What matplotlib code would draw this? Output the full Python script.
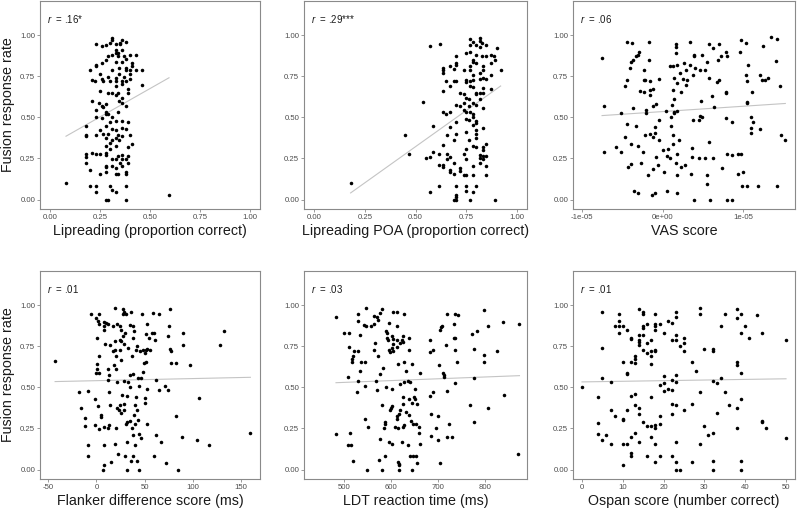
import matplotlib
matplotlib.use("Agg")
import matplotlib.pyplot as plt
import numpy as np

plt.rcParams['font.family'] = ['Liberation Sans', 'DejaVu Sans']
plt.rcParams['mathtext.fontset'] = 'custom'
plt.rcParams['mathtext.it'] = 'Liberation Sans:italic'
plt.rcParams['mathtext.rm'] = 'Liberation Sans'

# ---- data ----
# panel 1: lipreading (proportion correct) vs fusion rate
lip_x = [0.31, 0.31, 0.36, 0.38, 0.35, 0.33, 0.35, 0.23, 0.28, 0.30, 0.26,
         0.33, 0.36, 0.33, 0.34, 0.31, 0.29, 0.37, 0.40, 0.43, 0.38, 0.34, 0.28,
         0.33, 0.36, 0.41, 0.26, 0.23, 0.23,
         0.41, 0.38, 0.345, 0.31, 0.38, 0.40, 0.43, 0.46, 0.20, 0.345, 0.25, 0.40,
         0.37, 0.29, 0.33, 0.40, 0.26, 0.21, 0.225, 0.265, 0.30, 0.33, 0.36, 0.38,
         0.36, 0.33, 0.46, 0.39, 0.39, 0.25, 0.29, 0.31, 0.34, 0.33, 0.36, 0.345,
         0.21, 0.36, 0.245, 0.28, 0.26, 0.38, 0.265, 0.23, 0.28, 0.34, 0.28, 0.29,
         0.23, 0.31, 0.26,
         0.33, 0.36, 0.39, 0.30, 0.28, 0.18, 0.36, 0.38, 0.31, 0.33, 0.25, 0.265,
         0.29, 0.23, 0.18, 0.18, 0.40, 0.34, 0.36, 0.28, 0.33, 0.31, 0.345, 0.30,
         0.41, 0.39, 0.33, 0.28, 0.30,
         0.18, 0.21, 0.23, 0.25, 0.28, 0.28, 0.36, 0.34, 0.39, 0.18, 0.31, 0.33,
         0.36, 0.38, 0.39, 0.18, 0.35, 0.28, 0.31, 0.36, 0.28, 0.33, 0.20, 0.28,
         0.38, 0.25, 0.33, 0.34, 0.38,
         0.08, 0.20, 0.23, 0.30, 0.38, 0.31, 0.33, 0.23, 0.595, 0.28, 0.29, 0.38]
lip_y = [0.985, 0.97, 0.97, 0.96, 0.955, 0.945, 0.945, 0.945, 0.94, 0.955, 0.935,
         0.91, 0.91, 0.89, 0.89, 0.88, 0.87, 0.87, 0.88, 0.88, 0.855, 0.87, 0.85,
         0.835, 0.835, 0.83, 0.83, 0.82, 0.815,
         0.81, 0.80, 0.80, 0.79, 0.785, 0.785, 0.785, 0.79, 0.79, 0.765, 0.765, 0.765,
         0.745, 0.745, 0.74, 0.735, 0.735, 0.725, 0.72, 0.72, 0.72, 0.72, 0.72, 0.72,
         0.70, 0.69, 0.695, 0.67, 0.65, 0.66, 0.65, 0.65, 0.65, 0.635, 0.62, 0.60,
         0.60, 0.59, 0.585, 0.58, 0.57, 0.57, 0.565, 0.545, 0.535, 0.53, 0.52, 0.52,
         0.50, 0.50, 0.495,
         0.48, 0.48, 0.47, 0.47, 0.445, 0.445, 0.435, 0.43, 0.43, 0.42, 0.42, 0.40,
         0.40, 0.395, 0.39, 0.385, 0.395, 0.395, 0.385, 0.375, 0.375, 0.36, 0.36, 0.345,
         0.335, 0.32, 0.325, 0.325, 0.31,
         0.28, 0.285, 0.28, 0.28, 0.285, 0.27, 0.27, 0.265, 0.265, 0.26, 0.245, 0.245,
         0.245, 0.245, 0.22, 0.22, 0.22, 0.205, 0.205, 0.205, 0.195, 0.19, 0.18, 0.165,
         0.165, 0.155, 0.155, 0.155, 0.155,
         0.10, 0.085, 0.085, 0.085, 0.085, 0.06, 0.045, 0.045, 0.03, 0.0, 0.0, 0.0]

# panel 2: lipreading place of articulation
poa_x = [0.18, 0.45, 0.47, 0.535, 0.57, 0.62, 0.77, 0.82, 0.82, 0.785, 0.83,
         0.80, 0.85, 0.77, 0.82, 0.90, 0.77, 0.75, 0.80, 0.83, 0.85, 0.87, 0.885,
         0.70, 0.89, 0.785, 0.785, 0.80, 0.87, 0.70, 0.70, 0.67, 0.835, 0.77, 0.92,
         0.74, 0.69, 0.77, 0.635, 0.635, 0.635, 0.82, 0.835, 0.785, 0.835, 0.87,
         0.85, 0.82, 0.785, 0.75, 0.77, 0.65, 0.69, 0.70, 0.75, 0.67, 0.77, 0.785,
         0.835, 0.87, 0.635, 0.72, 0.80, 0.82, 0.835, 0.80, 0.74, 0.75, 0.765, 0.82,
         0.785, 0.74, 0.70, 0.72, 0.765, 0.80, 0.835, 0.74, 0.75, 0.635, 0.65, 0.67,
         0.77, 0.785, 0.785, 0.75, 0.765, 0.80, 0.70, 0.80, 0.785, 0.585, 0.67, 0.835,
         0.80, 0.75, 0.70, 0.80, 0.655, 0.80, 0.69, 0.765, 0.85, 0.635, 0.785, 0.835,
         0.80, 0.75, 0.835, 0.585, 0.615, 0.655, 0.74, 0.82, 0.835, 0.85, 0.57, 0.55,
         0.67, 0.655, 0.75, 0.82, 0.835, 0.82, 0.69, 0.615, 0.635, 0.635, 0.85, 0.785,
         0.72, 0.67, 0.67, 0.72, 0.69, 0.74, 0.75, 0.785, 0.85, 0.615, 0.70, 0.75,
         0.80, 0.57, 0.75, 0.785, 0.70, 0.70, 0.69, 0.70, 0.77, 0.89]
poa_y = [0.10, 0.39, 0.28, 0.595, 0.935, 0.945, 0.975, 0.98, 0.965, 0.96, 0.955,
         0.94, 0.94, 0.94, 0.925, 0.92, 0.895, 0.89, 0.88, 0.87, 0.87, 0.88, 0.875,
         0.87, 0.85, 0.85, 0.835, 0.83, 0.83, 0.83, 0.82, 0.815, 0.81, 0.81, 0.79,
         0.785, 0.795, 0.79, 0.80, 0.785, 0.77, 0.77, 0.785, 0.76, 0.74, 0.76,
         0.735, 0.735, 0.73, 0.725, 0.72, 0.72, 0.72, 0.72, 0.715, 0.69, 0.69, 0.685,
         0.68, 0.67, 0.66, 0.65, 0.65, 0.65, 0.65, 0.64, 0.64, 0.62, 0.61, 0.61,
         0.59, 0.585, 0.575, 0.57, 0.57, 0.575, 0.555, 0.545, 0.535, 0.53, 0.52, 0.535,
         0.53, 0.52, 0.50, 0.49, 0.485, 0.48, 0.47, 0.465, 0.455, 0.445, 0.44, 0.435,
         0.42, 0.41, 0.40, 0.40, 0.39, 0.375, 0.36, 0.36, 0.335, 0.33, 0.325, 0.32,
         0.32, 0.31, 0.30, 0.29, 0.28, 0.28, 0.28, 0.27, 0.265, 0.265, 0.26, 0.25,
         0.26, 0.245, 0.245, 0.25, 0.245, 0.22, 0.22, 0.21, 0.21, 0.195, 0.205, 0.205,
         0.19, 0.18, 0.165, 0.175, 0.155, 0.15, 0.15, 0.15, 0.15, 0.085, 0.085, 0.085,
         0.085, 0.045, 0.055, 0.045, 0.03, 0.015, 0.0, 0.0, 0.0, 0.0]

# panel 3: VAS score (in units of 1e-05)
vas_e5 = [-0.75, -0.73, -0.73, -0.44, -0.38, -0.17, -0.41, -0.39, -0.37, -0.33,
          -0.30, -0.29, -0.17, -0.47, -0.44, -0.23, -0.23, -0.22, -0.285, -0.225,
          -0.16, -0.12, -0.16, -0.16, -0.04, -0.37, -0.20, -0.20, -0.12, -0.08,
          0.045, -0.04, -0.52, -0.44, -0.33, -0.10, -0.095, -0.16, -0.22, -0.12,
          -0.465, -0.04, -0.39, -0.31, -0.58, -0.515, -0.24, -0.08, -0.06, -0.27,
          -0.39, -0.43, -0.12, -0.185, -0.35, -0.30, -0.13, -0.095, 0.02, 0.06,
          0.18, 0.17, 0.16, 0.17, 0.335, 0.13, 0.095, 0.18, 0.26, 0.34, 0.39, 0.39,
          0.21, 0.29, 0.40, 0.46, 0.49, 0.53, 0.55, 0.57, 0.62, 0.69, 0.70, 0.72,
          0.79, 0.80, 0.14, 0.25, 0.38, 0.30, 0.18, 0.29, 0.13, 0.23, 0.58, 0.67,
          0.70, 0.78, 0.79, 0.61, 0.145, 0.12, 0.48, 0.145, 0.135, 0.18, 0.465,
          0.49, 0.445, 0.375, 0.64, 0.78, 0.855, 0.11, 0.10, 0.13, 0.20, 0.13, 0.07,
          0.01, 0.055, 0.09, 0.18, 0.16, 0.225, 0.18, 0.28, 0.36, 0.36, 0.455, 0.53,
          0.58, 0.62, 0.35, 0.555, 0.555, 0.73, 0.80, 0.86, 0.93, 0.97, 0.385, 0.59,
          0.80, 0.86, 0.94, 1.00, 0.985, 1.05, 1.18, 1.42, 0.97, 1.03, 0.96, 1.06,
          1.035, 1.04, 1.05, 1.04, 1.11, 1.10, 1.12, 1.10, 1.10, 1.21, 1.21, 1.23,
          1.27, 1.30, 1.24, 1.34, 1.40, 1.42, 1.46, 1.47, 1.52]
vas_y = [0.86, 0.57, 0.29, 0.96, 0.95, 0.96, 0.80, 0.835, 0.85, 0.875,
         0.88, 0.895, 0.85, 0.69, 0.725, 0.79, 0.725, 0.725, 0.66, 0.655,
         0.665, 0.67, 0.635, 0.72, 0.735, 0.555, 0.545, 0.525, 0.57, 0.58,
         0.54, 0.485, 0.525, 0.46, 0.445, 0.44, 0.405, 0.40, 0.395, 0.38,
         0.38, 0.365, 0.335, 0.325, 0.32, 0.29, 0.29, 0.26, 0.21, 0.225,
         0.215, 0.195, 0.185, 0.15, 0.055, 0.04, 0.03, 0.04, 0.17, 0.055,
         0.04, 0.945, 0.93, 0.89, 0.96, 0.81, 0.81, 0.82, 0.83, 0.82, 0.88, 0.875,
         0.77, 0.79, 0.80, 0.79, 0.88, 0.79, 0.835, 0.945, 0.92, 0.85, 0.945, 0.87,
         0.90, 0.875, 0.74, 0.735, 0.755, 0.725, 0.71, 0.695, 0.665, 0.655, 0.74, 0.715,
         0.725, 0.645, 0.655, 0.63, 0.61, 0.575, 0.60, 0.535, 0.525, 0.54, 0.51,
         0.50, 0.485, 0.485, 0.56, 0.495, 0.47, 0.50, 0.445, 0.395, 0.36, 0.335, 0.31,
         0.30, 0.265, 0.255, 0.28, 0.225, 0.20, 0.15, 0.21, 0.315, 0.26, 0.25, 0.25,
         0.35, 0.25, 0.155, 0.15, 0.095, 0.19, 0.275, 0.27, 0.28, 0.275, 0.0, 0.0,
         0.0, 0.0, 0.155, 0.17, 0.085, 0.085, 0.085, 0.085, 0.97, 0.95, 0.90, 0.82,
         0.76, 0.72, 0.595, 0.585, 0.655, 0.50, 0.47, 0.435, 0.405, 0.43, 0.76, 0.725,
         0.725, 0.74, 0.935, 0.99, 0.84, 0.975, 0.69, 0.395, 0.365]
vas_x = [v * 1e-05 for v in vas_e5]

# panel 4: flanker difference score (ms)
fl_x = [-43, -18, -9, -16, -12, -12, -9, -9, -6, -1, 3, 2, 3, 1, 8, 8, 8, 10, 12, 9,
        3, 1, 1, -1, 3, -2, 2, 5, 5, -2, 3, 8, 8, 8, 7, 19, 28, 29, 28, 31, 36, 21,
        24, 17, 26, 35, 38, 39, 30, 47, 53, 59, 65, 76, 75, 58, 60, 51, 55, 61, 74,
        90, 90, 28, 24, 26, 19, 14, 29, 38, 33, 42, 19, 24, 17, 41, 45, 48, 51, 53,
        56, 50, 20, 25, 37, 49, 51, 76, 78, 77, 83, 97, 128, 133, 18, 12, 20, 13, 35,
        38, 48, 43, 46, 29, 33, 21, 12, 35, 44, 53, 62, 65, 71, 74, 13, 27, 32, 41,
        50, 50, 29, 24, 14, 40, 21, 23, 26, 29, 42, 39, 43, 32, 35, 31, 40, 53, 83,
        12, 13, 20, 37, 38, 44, 46, 62, 40, 32, 19, 67, 89, 104, 117, 160, 107, 22,
        30, 38, 60, 15, 36, 42, 72, 32, 44, 85]
fl_y = [0.66, 0.47, 0.475, 0.375, 0.315, 0.265, 0.15, 0.085, 0.945, 0.92, 0.945,
        0.905, 0.885, 0.80, 0.90, 0.87, 0.85, 0.89, 0.885, 0.765, 0.69, 0.64, 0.61,
        0.585, 0.585, 0.43, 0.385, 0.33, 0.32, 0.27, 0.245, 0.26, 0.15, 0.025, 0.0,
        0.985, 0.975, 0.96, 0.945, 0.945, 0.96, 0.885, 0.875, 0.875, 0.85, 0.88, 0.87,
        0.84, 0.83, 0.945, 0.885, 0.955, 0.945, 0.975, 0.87, 0.83, 0.83, 0.825, 0.80,
        0.79, 0.81, 0.83, 0.76, 0.81, 0.785, 0.78, 0.78, 0.76, 0.765, 0.80, 0.74, 0.75,
        0.73, 0.73, 0.72, 0.725, 0.72, 0.725, 0.73, 0.735, 0.73, 0.71, 0.69, 0.665,
        0.69, 0.65, 0.655, 0.735, 0.72, 0.65, 0.65, 0.635, 0.755, 0.845, 0.635, 0.61,
        0.61, 0.575, 0.575, 0.58, 0.595, 0.555, 0.555, 0.54, 0.535, 0.535, 0.545,
        0.50, 0.51, 0.49, 0.545, 0.485, 0.51, 0.485, 0.47, 0.455, 0.445, 0.44, 0.435,
        0.405, 0.40, 0.395, 0.39, 0.39, 0.375, 0.36, 0.345, 0.36, 0.36, 0.33, 0.30,
        0.29, 0.295, 0.28, 0.28, 0.28, 0.325, 0.255, 0.27, 0.25, 0.25, 0.21, 0.215,
        0.19, 0.21, 0.15, 0.165, 0.155, 0.165, 0.195, 0.18, 0.15, 0.22, 0.435, 0.095,
        0.085, 0.085, 0.085, 0.045, 0.055, 0.055, 0.04, 0.0, 0.0, 0.0]

# panel 5: LDT reaction time (ms)
ldt_x = [483, 483, 500, 511, 511, 509, 509, 514, 513, 519, 516, 517, 519, 521, 529,
         530, 530, 533, 530, 527, 536, 533, 544, 542, 546, 546, 544, 544, 552, 549,
         557, 564, 564, 570, 572, 577, 580, 566, 564, 572, 568, 577, 583, 570, 576,
         580, 584, 588, 588, 575, 580, 588, 605, 613, 628, 595, 612, 589, 592, 602,
         592, 594, 605, 613, 605, 625, 624, 618, 625, 638, 613, 601, 595, 598, 604,
         638, 628, 615, 645, 631, 589, 601, 620, 628, 635, 641, 651, 662, 626, 638,
         649, 651, 626, 645, 655, 601, 598, 599, 619, 616, 612, 612, 632, 638, 642,
         646, 628, 625, 614, 608, 652, 659, 659, 662, 596, 602, 623, 635, 641, 646,
         653, 615, 616, 616, 656, 616, 645, 682, 683, 689, 683, 689, 685, 685, 695,
         700, 701, 700, 705, 707, 708, 711, 712, 713, 704, 718, 717, 718, 723, 718,
         730, 733, 735, 734, 735, 743, 737, 741, 737, 773, 782, 776, 777, 768, 777,
         797, 798, 798, 807, 807, 826, 839, 840, 873, 870]
ldt_y = [0.925, 0.215, 0.83, 0.83, 0.745, 0.565, 0.15, 0.15, 0.22, 0.055, 0.67, 0.655,
         0.69, 0.72, 0.72, 0.945, 0.905, 0.82, 0.54, 0.47, 0.655, 0.60, 0.655, 0.88,
         0.875, 0.985, 0.51, 0.31, 0.26, 0.0, 0.875, 0.885, 0.935, 0.925, 0.91, 0.955,
         0.975, 0.77, 0.73, 0.69, 0.54, 0.58, 0.615, 0.485, 0.185, 0.39, 0.255, 0.29,
         0.275, 0.06, 0.0, 0.085, 0.96, 0.96, 0.945, 0.89, 0.87, 0.845, 0.83, 0.815,
         0.80, 0.785, 0.795, 0.785, 0.765, 0.81, 0.79, 0.77, 0.775, 0.80, 0.745, 0.74,
         0.73, 0.715, 0.72, 0.725, 0.655, 0.64, 0.64, 0.60, 0.505, 0.49, 0.52, 0.53,
         0.54, 0.53, 0.49, 0.585, 0.44, 0.43, 0.44, 0.43, 0.40, 0.405, 0.40, 0.385,
         0.365, 0.375, 0.365, 0.335, 0.325, 0.31, 0.35, 0.33, 0.295, 0.275, 0.27, 0.26,
         0.25, 0.26, 0.275, 0.26, 0.22, 0.155, 0.165, 0.155, 0.165, 0.15, 0.085, 0.085,
         0.085, 0.045, 0.025, 0.035, 0.04, 0.0, 0.0, 0.79, 0.715, 0.725, 0.445, 0.47,
         0.335, 0.205, 0.255, 0.325, 0.635, 0.18, 0.85, 0.865, 0.87, 0.585, 0.565, 0.575,
         0.04, 0.945, 0.76, 0.48, 0.28, 0.20, 0.195, 0.80, 0.80, 0.885, 0.945, 0.94,
         0.725, 0.655, 0.525, 0.825, 0.845, 0.735, 0.555, 0.39, 0.29, 0.97, 0.695, 0.655,
         0.87, 0.375, 0.72, 0.90, 0.455, 0.885, 0.095]

# panel 6: Ospan score (number correct)
osp_x = [0, 4, 4, 4, 5, 5, 5, 5, 6, 7, 7, 7, 8, 8, 9, 9, 9, 9, 10, 10, 10, 10, 10, 10,
         11, 11, 11, 11, 11, 12, 12, 12, 12, 12, 12, 12, 13, 13, 13, 13, 13, 13, 14, 14,
         14, 14, 14, 14, 14, 14, 15, 15, 15, 15, 15, 15, 15, 16, 16, 16, 16, 16, 17, 17,
         17, 17, 17, 17, 17, 18, 18, 18, 18, 18, 18, 18, 18, 18, 18, 19, 19, 19, 19, 19,
         20, 20, 20, 20, 21, 21, 22, 22, 22, 22, 22, 22, 22, 23, 23, 23, 23, 23, 23, 23,
         23, 23, 23, 24, 24, 25, 25, 25, 25, 27, 27, 27, 28, 29, 29, 29, 29, 30, 30, 31,
         32, 32, 32, 32, 32, 32, 33, 33, 34, 34, 35, 35, 36, 38, 38, 38, 38, 38, 38, 39,
         39, 39, 39, 39, 39, 40, 41, 43, 44, 44, 44, 45, 50, 50]
osp_y = [0.50, 0.44, 0.285, 0.215, 0.96, 0.74, 0.555, 0.18, 0.21, 0.535, 0.365, 0.155,
         0.325, 0.87, 0.945, 0.905, 0.87, 0.83, 0.87, 0.655, 0.31, 0.30, 0.155, 0.03,
         0.85, 0.59, 0.58, 0.365, 0.155, 0.80, 0.795, 0.655, 0.445, 0.195, 0.10, 0.085,
         0.69, 0.67, 0.645, 0.46, 0.39, 0.225, 0.975, 0.82, 0.79, 0.775, 0.755, 0.375,
         0.335, 0.17, 0.96, 0.945, 0.87, 0.86, 0.82, 0.73, 0.29, 0.885, 0.77, 0.71,
         0.265, 0.085, 0.79, 0.72, 0.69, 0.64, 0.44, 0.265, 0.20, 0.945, 0.885, 0.87,
         0.85, 0.73, 0.72, 0.27, 0.25, 0.155, 0.045, 0.885, 0.515, 0.325, 0.28, 0.085,
         0.83, 0.57, 0.525, 0.48, 0.905, 0.49, 0.89, 0.79, 0.545, 0.485, 0.40, 0.335,
         0.085, 0.96, 0.925, 0.82, 0.79, 0.575, 0.535, 0.39, 0.17, 0.045, 0.0, 0.75,
         0.0, 0.80, 0.77, 0.72, 0.36, 0.655, 0.40, 0.045, 0.60, 0.985, 0.945, 0.47,
         0.155, 0.735, 0.265, 0.21, 0.735, 0.72, 0.54, 0.225, 0.055, 0.0, 0.525, 0.345,
         0.555, 0.87, 0.945, 0.47, 0.39, 0.975, 0.92, 0.655, 0.635, 0.375, 0.25, 0.945,
         0.83, 0.585, 0.43, 0.055, 0.0, 0.87, 0.80, 0.94, 0.83, 0.295, 0.29, 0.255,
         0.785, 0.19]

# fitted lines (intercept, slope)
fit_intercept = [0.33, -0.118, 0.535, 0.5405, 0.475, 0.533]
fit_slope = [0.69, 0.879, 3240.0, 0.000128, 0.00011, 0.00038]

r_labels = [".16*", ".29***", ".06", ".01", ".03", ".01"]
x_labels = ["Lipreading (proportion correct)", "Lipreading POA (proportion correct)",
            "VAS score", "Flanker difference score (ms)", "LDT reaction time (ms)",
            "Ospan score (number correct)"]
x_ticks = [[0, 0.25, 0.5, 0.75, 1.0], [0, 0.25, 0.5, 0.75, 1.0],
           [-1e-05, 0, 1e-05], [-50, 0, 50, 100, 150], [500, 600, 700, 800],
           [0, 10, 20, 30, 40, 50]]
x_tick_labels = [["0.00", "0.25", "0.50", "0.75", "1.00"],
                 ["0.00", "0.25", "0.50", "0.75", "1.00"],
                 ["-1e-05", "0e+00", "1e-05"],
                 ["-50", "0", "50", "100", "150"],
                 ["500", "600", "700", "800"],
                 ["0", "10", "20", "30", "40", "50"]]
x_limits = [(-0.05, 1.05), (-0.05, 1.05), (-1.11e-05, 1.64e-05),
            (-58.7, 170), (415, 889), (-2.2, 52.2)]
y_ticks = [0, 0.25, 0.5, 0.75, 1.0]
y_tick_labels = ["0.00", "0.25", "0.50", "0.75", "1.00"]

xs = [lip_x, poa_x, vas_x, fl_x, ldt_x, osp_x]
ys = [lip_y, poa_y, vas_y, fl_y, ldt_y, osp_y]

# ---- layout in pixels (figure is 797 x 509) ----
W, H = 797, 509
col_px = [(40, 220), (304, 223), (573, 222)]
row_px = [(1, 208), (271, 208)]

fig = plt.figure(figsize=(W / 100, H / 100), dpi=100)
frame_col = '#8a8a8a'

for i in range(6):
    r, c = divmod(i, 3)
    left, w = col_px[c]
    top, h = row_px[r]
    ax = fig.add_axes([left / W, (H - top - h) / H, w / W, h / H])

    x = np.array(xs[i])
    y = np.array(ys[i])
    xx = np.array([x.min(), x.max()])
    ax.plot(xx, fit_intercept[i] + fit_slope[i] * xx, color='#c4c4c4', lw=0.8, zorder=1)
    ax.scatter(x, y, s=6.5, color='black', linewidths=0, zorder=2)

    ax.set_xlim(*x_limits[i])
    ax.set_ylim(-0.0575, 1.2075)
    ax.set_xticks(x_ticks[i])
    ax.set_xticklabels(x_tick_labels[i])
    ax.set_yticks(y_ticks)
    ax.set_yticklabels(y_tick_labels)
    ax.tick_params(length=2.3, width=0.6, color=frame_col, labelsize=5.6,
                   labelcolor='#4d4d4d', pad=1.2)
    for sp in ax.spines.values():
        sp.set_color(frame_col)
        sp.set_linewidth(0.8)

    ax.set_xlabel(x_labels[i], fontsize=10.3, color='#1a1a1a', labelpad=2)
    if c == 0:
        ax.set_ylabel("Fusion response rate", fontsize=10.3, color='#1a1a1a', labelpad=4)

    ax.text(0.033, 1.10, r"$\it{r}$  = " + r_labels[i], transform=ax.get_yaxis_transform(),
            fontsize=7, color='#1a1a1a', ha='left', va='center')

fig.savefig("out.png", dpi=100)
